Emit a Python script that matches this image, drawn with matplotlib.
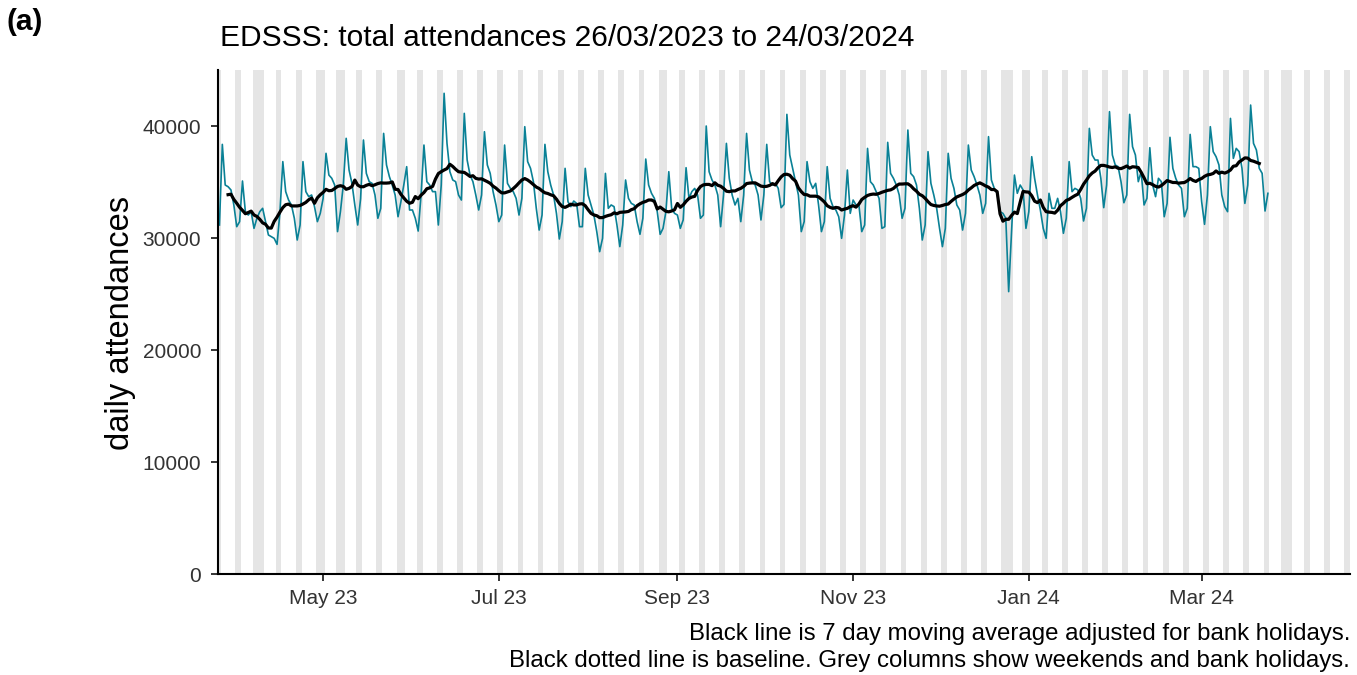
import numpy as np
import pandas as pd
import matplotlib
matplotlib.use('Agg')
import matplotlib.pyplot as plt
import matplotlib.dates as mdates

plt.rcParams['font.family'] = ['Liberation Sans', 'DejaVu Sans']

# ── Data: daily EDSSS attendances, 26/03/2023 to 24/03/2024 ──
START = '2023-03-26'
X_END = '2024-04-21'

att_mar23 = [31160, 38360, 34730, 34580, 34290, 32950]
att_apr23 = [31010, 31460, 35090, 32350, 32050, 32350, 30860, 31760, 32350, 32650,
             31460, 30270, 30120, 29970, 29430, 32300, 36820, 34140, 33390, 32950,
             31760, 29820, 31160, 36820, 34140, 33690, 33840, 32800, 31460, 32200]
att_may23 = [33540, 37560, 35620, 35330, 34730, 30570, 32350, 34730, 38900, 36070,
             34880, 32950, 31160, 33500, 38750, 35770, 35030, 34880, 33840, 31760,
             32650, 39340, 36520, 35480, 34730, 33840, 31900, 33240, 34730, 36370,
             32500]
att_jun23 = [32500, 31760, 30620, 33840, 38300, 35030, 34730, 34140, 34140, 31160,
             34730, 42920, 38450, 35920, 35180, 35030, 33840, 33390, 41130, 36960,
             35620, 35030, 33840, 32500, 33840, 39490, 36520, 35770, 34140, 32950]
att_jul23 = [31460, 32050, 38300, 34880, 34430, 34140, 33540, 32050, 33540, 39940,
             36820, 36220, 35030, 32650, 30710, 32050, 38360, 35920, 34730, 33840,
             32200, 29910, 31460, 36220, 33240, 32800, 33300, 33090, 31010, 31010,
             36220]
att_aug23 = [33840, 32950, 32050, 30570, 28780, 29970, 35770, 32650, 32950, 32800,
             31160, 29230, 31160, 35180, 33540, 33090, 32950, 31460, 30330, 31760,
             37050, 34730, 33990, 33540, 32350, 30330, 30860, 32350, 35920, 32650,
             32200]
att_sep23 = [32050, 30860, 31610, 36280, 33540, 34140, 34430, 33840, 31760, 32050,
             40000, 35920, 35180, 34730, 33840, 31010, 33840, 38450, 35330, 33840,
             32950, 33540, 31460, 33840, 39340, 36070, 35030, 34730, 33840, 31610]
att_oct23 = [33840, 38360, 35030, 34730, 34880, 34430, 32710, 33000, 41040, 37410,
             36220, 35030, 33840, 30570, 31460, 36820, 35030, 34430, 34880, 32950,
             30570, 31460, 36370, 33540, 32800, 32500, 31900, 29970, 32050, 36070,
             32200]
att_nov23 = [33390, 32950, 32950, 30570, 31160, 38000, 35030, 34730, 34140, 33540,
             30860, 31010, 38540, 35770, 35330, 34730, 33840, 31760, 32650, 39640,
             35770, 35480, 34730, 32650, 29820, 31160, 37710, 34880, 33840, 32650]
att_dec23 = [30860, 29230, 30860, 37560, 35330, 34430, 32950, 32500, 30710, 32200,
             38300, 36070, 35480, 34730, 33840, 32200, 33090, 39050, 35180, 34430,
             33990, 32350, 32200, 31760, 25210, 30570, 35620, 33990, 34730, 34290,
             30860]
att_jan24 = [32350, 37260, 35330, 33840, 32500, 30860, 29970, 33990, 32650, 32650,
             33540, 32350, 30420, 31760, 36820, 34140, 34430, 34290, 33540, 31520,
             32650, 39790, 37410, 36960, 36960, 35330, 32710, 34730, 41280, 37410,
             36520]
att_feb24 = [36370, 35030, 33150, 33840, 41040, 38150, 37410, 35030, 35920, 32950,
             33540, 38060, 34730, 33690, 35330, 35030, 31900, 33090, 38990, 36220,
             35330, 34730, 34430, 31900, 32650, 39250, 36370, 36370, 36220]
att_mar24 = [33240, 31220, 33840, 39940, 37710, 37260, 36520, 33840, 32800, 32350,
             40680, 37110, 38000, 37710, 36220, 33090, 34730, 41870, 38450, 37860,
             36220, 35770, 32410, 33990]

bank_holidays = ['2023-04-07', '2023-04-10', '2023-05-01', '2023-05-08', '2023-05-29',
                 '2023-08-28', '2023-12-25', '2023-12-26', '2024-01-01', '2024-03-29',
                 '2024-04-01']

y_ticks = [0, 10000, 20000, 30000, 40000]
x_tick_dates = ['2023-05-01', '2023-07-01', '2023-09-01', '2023-11-01', '2024-01-01', '2024-03-01']

title = 'EDSSS: total attendances 26/03/2023 to 24/03/2024'
caption = ['Black line is 7 day moving average adjusted for bank holidays.',
           'Black dotted line is baseline. Grey columns show weekends and bank holidays.']

attendances = (att_mar23 + att_apr23 + att_may23 + att_jun23 + att_jul23 + att_aug23 +
               att_sep23 + att_oct23 + att_nov23 + att_dec23 + att_jan24 + att_feb24 + att_mar24)
dates = pd.date_range(START, periods=len(attendances), freq='D')
series = pd.Series(attendances, index=dates)
moving_avg = series.rolling(7, center=True).mean()

# ── Figure ───────────────────────────────────────────────────────────────────
W, H = 1357, 675
fig = plt.figure(figsize=(W / 100, H / 100), dpi=100)
ax = fig.add_axes([218 / W, 1 - 574 / H, (1350 - 218) / W, (574 - 70) / H])

half = pd.Timedelta(hours=12)
bh = set(pd.to_datetime(bank_holidays))
for d in pd.date_range(START, X_END):
    if d.dayofweek >= 5 or d in bh:
        ax.axvspan(d - half, d + half, color='#e5e5e5', lw=0, zorder=0)

ax.plot(dates, series.values, color='#0a8196', linewidth=1.2, zorder=2)
ax.plot(dates, moving_avg.values, color='black', linewidth=2.3, zorder=3)

ax.set_xlim(pd.Timestamp(START) - half, pd.Timestamp(X_END) + half)
ax.set_ylim(0, 45000)
ax.set_yticks(y_ticks)
ax.set_yticklabels([str(v) for v in y_ticks])
ax.set_xticks(pd.to_datetime(x_tick_dates))
ax.xaxis.set_major_formatter(mdates.DateFormatter('%b %y'))

for s in ['top', 'right']:
    ax.spines[s].set_visible(False)
for s in ['left', 'bottom']:
    ax.spines[s].set_linewidth(1.5)
ax.tick_params(axis='both', length=5, width=1.1, labelsize=15, labelcolor='#333333')
ax.tick_params(axis='y', pad=7)
ax.tick_params(axis='x', pad=6)

fig.text(120 / W, 1 - 323 / H, 'daily attendances', rotation=90, ha='center', va='center',
         fontsize=23.5)
fig.text(220 / W, 1 - 38 / H, title, ha='left', va='center', fontsize=21.5)
fig.text(7 / W, 1 - 22 / H, '(a)', ha='left', va='center', fontsize=21.5, fontweight='bold')
fig.text(1350 / W, 1 - 634 / H, caption[0], ha='right', va='center', fontsize=17.3)
fig.text(1350 / W, 1 - 661 / H, caption[1], ha='right', va='center', fontsize=17.3)

fig.savefig('out.png', dpi=100)
